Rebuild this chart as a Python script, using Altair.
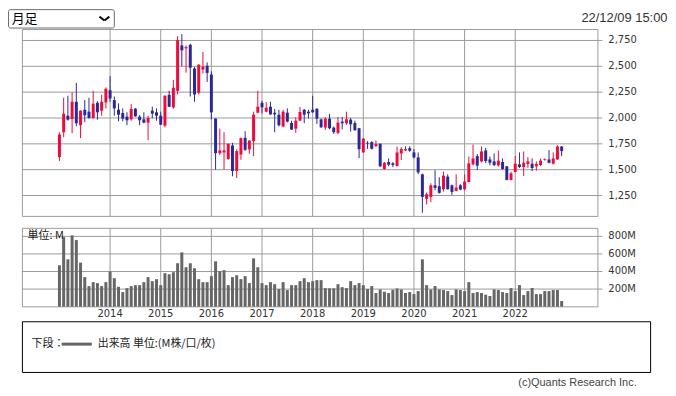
import altair as alt
import pandas as pd

# Monthly candles, Jan 2013 .. Dec 2022 (index 0 = 2013-01)
open_ = [1622, 1862, 2022, 1990, 2157, 1930, 2080, 2061, 2000, 2147,
         2071, 2151, 2269, 2173, 2080, 2048, 2013, 1987, 2090, 2013,
         1987, 1955, 2071, 2055, 2022, 1926, 2224, 2103, 2263, 2702,
         2673, 2708, 2478, 2244, 2468, 2506, 2420, 1994, 1660, 1667,
         1603, 1734, 1487, 1647, 1808, 1696, 1776, 2051, 2147, 2061,
         2109, 2051, 2032, 1917, 2051, 1952, 1897, 1974, 2080, 2061,
         2080, 2090, 1987, 1907, 1994, 1907, 1856, 1965, 1949, 1984,
         1952, 1901, 1667, 1760, 1766, 1728, 1750, 1506, 1574, 1561,
         1535, 1657, 1686, 1708, 1667, 1619, 1455, 1218, 1237, 1349,
         1340, 1311, 1433, 1349, 1295, 1349, 1311, 1381, 1551, 1631,
         1580, 1686, 1599, 1580, 1542, 1574, 1532, 1401, 1478, 1551,
         1526, 1555, 1558, 1532, 1545, 1596, 1599, 1558, 1599, 1724]
high = [1862, 2196, 2215, 2250, 2340, 2075, 2173, 2196, 2263, 2163,
        2224, 2295, 2404, 2208, 2141, 2093, 2055, 2135, 2096, 2029,
        2055, 2022, 2109, 2093, 2061, 2221, 2263, 2369, 2792, 2811,
        2702, 2718, 2494, 2520, 2638, 2538, 2452, 1997, 1897, 1862,
        1754, 1760, 1696, 1811, 1872, 1785, 2061, 2263, 2167, 2154,
        2157, 2087, 2080, 2080, 2093, 1974, 2006, 2106, 2087, 2080,
        2215, 2093, 1994, 2006, 2039, 1917, 2010, 2010, 2061, 2000,
        1974, 1904, 1805, 1776, 1776, 1782, 1754, 1574, 1609, 1574,
        1724, 1718, 1728, 1728, 1699, 1667, 1462, 1279, 1369, 1494,
        1426, 1481, 1455, 1356, 1455, 1359, 1455, 1628, 1744, 1651,
        1724, 1712, 1628, 1657, 1686, 1609, 1536, 1481, 1631, 1667,
        1676, 1622, 1609, 1580, 1609, 1609, 1689, 1667, 1737, 1728]
low = [1583, 1814, 1974, 1853, 1920, 1805, 1960, 1994, 1995, 1984,
       2022, 2093, 2157, 2022, 1968, 1968, 1930, 1974, 2013, 1930,
       1949, 1785, 1997, 1974, 1933, 1910, 2105, 2090, 2228, 2500,
       2439, 2208, 2157, 2228, 2430, 2349, 1987, 1500, 1644, 1500,
       1596, 1436, 1420, 1596, 1683, 1654, 1631, 2045, 2045, 2055,
       2032, 1862, 1917, 1914, 1958, 1885, 1856, 1971, 1949, 1997,
       2051, 1942, 1904, 1885, 1891, 1846, 1843, 1891, 1933, 1869,
       1878, 1612, 1663, 1702, 1696, 1721, 1528, 1500, 1532, 1525,
       1532, 1593, 1680, 1673, 1609, 1458, 1083, 1164, 1186, 1301,
       1269, 1289, 1308, 1256, 1292, 1301, 1298, 1378, 1542, 1497,
       1571, 1564, 1542, 1535, 1529, 1500, 1397, 1397, 1474, 1516,
       1439, 1519, 1487, 1490, 1535, 1587, 1561, 1551, 1596, 1631]
close = [1840, 2042, 1984, 2157, 1949, 2071, 2026, 2000, 2138, 2055,
         2157, 2282, 2189, 2093, 2032, 1994, 1978, 2087, 2016, 1978,
         1955, 2000, 2042, 2022, 1936, 2215, 2109, 2292, 2753, 2654,
         2686, 2487, 2228, 2516, 2497, 2436, 2055, 1660, 1686, 1686,
         1750, 1487, 1680, 1805, 1692, 1782, 2032, 2109, 2103, 2099,
         2035, 2035, 1930, 2061, 1965, 1888, 1974, 2058, 2032, 2045,
         2055, 1994, 1910, 1994, 1901, 1862, 1955, 1949, 1987, 1939,
         1881, 1699, 1801, 1753, 1702, 1747, 1532, 1567, 1548, 1545,
         1667, 1699, 1699, 1683, 1619, 1474, 1237, 1263, 1349, 1324,
         1276, 1442, 1311, 1285, 1327, 1308, 1385, 1561, 1609, 1539,
         1676, 1583, 1567, 1545, 1587, 1506, 1401, 1465, 1558, 1526,
         1567, 1580, 1516, 1555, 1587, 1603, 1567, 1609, 1724, 1680]
# Volume, millions
volume = [471, 792, 539, 811, 758, 501, 336, 234, 279, 268,
          234, 279, 400, 324, 226, 166, 211, 234, 245, 245,
          279, 336, 290, 313, 245, 381, 369, 392, 494, 618,
          449, 494, 437, 313, 279, 279, 347, 516, 403, 415,
          245, 336, 358, 313, 347, 268, 550, 449, 268, 245,
          279, 256, 200, 279, 189, 245, 245, 290, 324, 279,
          290, 302, 302, 211, 209, 209, 256, 222, 211, 290,
          245, 268, 245, 200, 234, 155, 196, 170, 155, 192,
          207, 196, 155, 166, 143, 177, 539, 245, 196, 234,
          196, 189, 177, 132, 196, 189, 177, 279, 155, 166,
          155, 136, 121, 196, 189, 166, 155, 211, 177, 245,
          132, 177, 211, 143, 143, 177, 177, 189, 189, 64]

year_ticks = [12, 24, 36, 48, 60, 72, 84, 96, 108]   # month index of Jan 2014..2022
year_labels = ["2014", "2015", "2016", "2017", "2018", "2019", "2020", "2021", "2022"]
price_ticks = [1250, 1500, 1750, 2000, 2250, 2500, 2750]
price_labels = ["1,250", "1,500", "1,750", "2,000", "2,250", "2,500", "2,750"]
vol_ticks = [200, 400, 600, 800]
vol_labels = ["200M", "400M", "600M", "800M"]

UP, DOWN = "#f00a3c", "#2b2896"
GRID = "#9a9a9a"
W, H = 580, 280

df = pd.DataFrame({"m": list(range(len(open_))), "open": open_, "high": high,
                   "low": low, "close": close, "volume": volume})
df["dir"] = ["up" if c >= o else "down" for o, c in zip(open_, close)]
years = pd.DataFrame({"t": year_ticks, "label": year_labels})
pt = pd.DataFrame({"v": price_ticks, "label": price_labels})
vt = pd.DataFrame({"v": vol_ticks, "label": vol_labels})
one = pd.DataFrame({"k": [0]})

xs = alt.Scale(domain=[-8.891, 127.71], range=[0, W], padding=0, nice=False, zero=False)
ps = alt.Scale(domain=[1250, 2750], range=[167.5, 11.5], padding=0, nice=False, zero=False)
vs = alt.Scale(domain=[0, 800], range=[279.3, 208.6], padding=0, nice=False, zero=False)
color = alt.Color("dir:N", scale=alt.Scale(domain=["up", "down"], range=[UP, DOWN]), legend=None)

def X(field):
    return alt.X(field, scale=xs, axis=None)

def deco_text(text, x, y, align="left", font="Noto Sans CJK JP", size=11, col="#222", weight="normal"):
    return alt.Chart(one).mark_text(text=text, align=align, baseline="middle", font=font,
                                    fontSize=size, color=col, fontWeight=weight).encode(
        x=alt.value(x), y=alt.value(y))

def deco_rect(x, x2, y, y2, stroke, radius=0):
    return alt.Chart(one).mark_rect(fill="white", stroke=stroke, strokeWidth=1, cornerRadius=radius).encode(
        x=alt.value(x), x2=alt.value(x2), y=alt.value(y), y2=alt.value(y2))

# panel frames
price_frame = deco_rect(0.5, W - 0.5, 0.5, 188.5, GRID)
vol_frame = deco_rect(0.5, W - 0.5, 200.5, 279.5, GRID)

# grid lines + ticks
p_grid = alt.Chart(pt).mark_rule(color=GRID, strokeWidth=1).encode(
    y=alt.Y("v:Q", scale=ps, axis=None), x=alt.value(0), x2=alt.value(W + 4))
v_grid = alt.Chart(vt).mark_rule(color=GRID, strokeWidth=1).encode(
    y=alt.Y("v:Q", scale=vs, axis=None), x=alt.value(0), x2=alt.value(W + 4))
yr_grid_p = alt.Chart(years).mark_rule(color=GRID, strokeWidth=1).encode(
    x=X("t:Q"), y=alt.value(0.5), y2=alt.value(188.5))
yr_grid_v = alt.Chart(years).mark_rule(color=GRID, strokeWidth=1).encode(
    x=X("t:Q"), y=alt.value(200.5), y2=alt.value(279.5))

# axis labels
p_lab = alt.Chart(pt).mark_text(align="left", baseline="middle", font="DejaVu Sans", fontSize=10,
                                color="#333").encode(
    y=alt.Y("v:Q", scale=ps, axis=None), x=alt.value(W + 10), text="label:N")
v_lab = alt.Chart(vt).mark_text(align="left", baseline="middle", font="DejaVu Sans", fontSize=10,
                                color="#333").encode(
    y=alt.Y("v:Q", scale=vs, axis=None), x=alt.value(W + 10), text="label:N")
yr_lab = alt.Chart(years).mark_text(align="center", baseline="middle", font="DejaVu Sans", fontSize=10,
                                    color="#333").encode(
    x=X("t:Q"), y=alt.value(287), text="label:N")

# candles
wick = alt.Chart(df).mark_rule(strokeWidth=1).encode(
    x=X("m:Q"), y=alt.Y("low:Q", scale=ps, axis=None), y2="high:Q", color=color)
body = alt.Chart(df).mark_bar(size=3).encode(
    x=X("m:Q"), y=alt.Y("open:Q", scale=ps, axis=None), y2="close:Q", color=color)

# volume
bars = alt.Chart(df).mark_bar(size=3, color="#666666").encode(
    x=X("m:Q"), y=alt.Y("volume:Q", scale=vs, axis=None))

# header
dd_box = deco_rect(-13.5, 93, -19.5, -1, "#6b6b6b", radius=2)
dd_text = deco_text("月足", -10.3, -10.2, size=13, col="#000")
chev1 = alt.Chart(one).mark_rule(strokeWidth=2, color="#111").encode(
    x=alt.value(78), x2=alt.value(83), y=alt.value(-12.5), y2=alt.value(-8.5))
chev2 = alt.Chart(one).mark_rule(strokeWidth=2, color="#111").encode(
    x=alt.value(83), x2=alt.value(88), y=alt.value(-8.5), y2=alt.value(-12.5))
date_txt = deco_text("22/12/09 15:00", 649.5, -11.5, align="right", font="Liberation Sans", size=13, col="#333")

# volume unit + legend box + copyright
unit_txt = deco_text("単位: M", 5.7, 208)
leg_box = deco_rect(0.5, 632.5, 294.5, 345.5, "#000")
leg_t1 = deco_text("下段：", 9.7, 317)
leg_line = alt.Chart(one).mark_rule(strokeWidth=3, color="#666666").encode(
    x=alt.value(40), x2=alt.value(70.3), y=alt.value(317))
leg_t2 = deco_text("出来高 単位:(M株/口/枚)", 76.3, 317)
copy_txt = deco_text("(c)Quants Research Inc.", 618.5, 356, align="right", font="Liberation Sans",
                     size=11, col="#444")

chart = alt.layer(
    price_frame, vol_frame, p_grid, v_grid, yr_grid_p, yr_grid_v,
    wick, body, bars, p_lab, v_lab, yr_lab, unit_txt,
    dd_box, dd_text, chev1, chev2, date_txt,
    leg_box, leg_t1, leg_line, leg_t2, copy_txt,
).resolve_scale(y="independent").properties(
    width=W, height=H,
    autosize=alt.AutoSizeParams(type="none"),
    padding={"left": 14, "top": 20, "right": 70, "bottom": 84},
).configure_view(strokeWidth=0)

chart.save("out.html", embed_options={"renderer": "svg", "actions": False})
